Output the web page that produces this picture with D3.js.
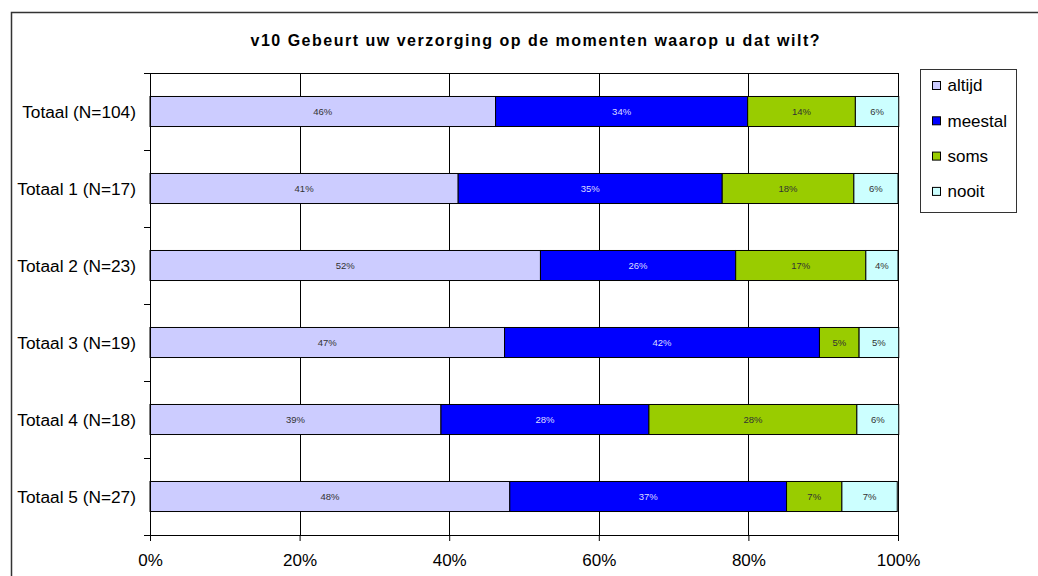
<!DOCTYPE html>
<html>
<head>
<meta charset="utf-8">
<script src="https://cdn.jsdelivr.net/npm/d3@7"></script>
<style>
  body { margin: 0; background: #fff; }
  text { font-family: "Liberation Sans", Arial, sans-serif; }
</style>
</head>
<body>
<script>
// chart data
var title = "v10 Gebeurt uw verzorging op de momenten waarop u dat wilt?";
var categories = ["Totaal (N=104)", "Totaal 1 (N=17)", "Totaal 2 (N=23)", "Totaal 3 (N=19)", "Totaal 4 (N=18)", "Totaal 5 (N=27)"];
var seriesNames = ["altijd", "meestal", "soms", "nooit"];
var altijd  = [46.2, 41.2, 52.2, 47.4, 38.9, 48.1];
var meestal = [33.7, 35.3, 26.1, 42.1, 27.8, 37.0];
var soms    = [14.4, 17.6, 17.4, 5.3, 27.8, 7.4];
var nooit   = [5.8, 5.9, 4.3, 5.3, 5.6, 7.4];
var xTicks = [0, 20, 40, 60, 80, 100];

var colors = ["#ccccff", "#0000ff", "#99cc00", "#ccffff"];
var labelColors = ["#333333", "#ddddff", "#333333", "#333333"];

// rows for the stack layout
var rows = categories.map(function(c, i) {
  return { cat: c, altijd: altijd[i], meestal: meestal[i], soms: soms[i], nooit: nooit[i] };
});
var stacked = d3.stack().keys(seriesNames)(rows);

var W = 1038, H = 576;
var plot = { left: 150, right: 898, top: 73, bottom: 535 };

var svg = d3.select("body").append("svg")
  .attr("width", W)
  .attr("height", H);

// outer chart frame (runs off the picture on the right and bottom)
svg.append("rect")
  .attr("x", 11.5).attr("y", 12.5)
  .attr("width", W).attr("height", H)
  .attr("fill", "#fff")
  .attr("stroke", "#333")
  .attr("stroke-width", 1.5);

var x = d3.scaleLinear().domain([0, 100]).range([plot.left, plot.right]);
var y = d3.scaleBand().domain(categories).range([plot.top, plot.bottom])
  .paddingInner(0.61).paddingOuter(0.305);
// boundaries between categories, for the tick marks on the left
var yEdge = d3.scaleLinear().domain([0, categories.length]).range([plot.top, plot.bottom]);

// title
svg.append("text")
  .attr("x", 535).attr("y", 46)
  .attr("text-anchor", "middle")
  .attr("font-size", 16)
  .attr("font-weight", "bold")
  .attr("textLength", 569)
  .attr("lengthAdjust", "spacing")
  .text(title);

// vertical grid lines
svg.append("g")
  .selectAll("line")
  .data(xTicks.slice(1))
  .enter().append("line")
  .attr("x1", function(d) { return Math.round(x(d)) + 0.5; })
  .attr("x2", function(d) { return Math.round(x(d)) + 0.5; })
  .attr("y1", plot.top).attr("y2", plot.bottom)
  .attr("stroke", "#000")
  .attr("stroke-width", 1);

// top edge of the plot area
svg.append("line")
  .attr("x1", plot.left).attr("x2", plot.right)
  .attr("y1", plot.top + 0.5).attr("y2", plot.top + 0.5)
  .attr("stroke", "#000");

// bars
var layer = svg.append("g").selectAll("g")
  .data(stacked)
  .enter().append("g")
  .attr("fill", function(d, i) { return colors[i]; });

layer.selectAll("rect")
  .data(function(d) { return d; })
  .enter().append("rect")
  .attr("x", function(d) { return x(d[0]); })
  .attr("y", function(d) { return y(d.data.cat); })
  .attr("width", function(d) { return x(d[1]) - x(d[0]); })
  .attr("height", y.bandwidth())
  .attr("stroke", "#000")
  .attr("stroke-width", 1);

// value labels
layer.selectAll("text")
  .data(function(d, i) { return d.map(function(p) { return { p: p, s: i }; }); })
  .enter().append("text")
  .attr("x", function(d) { return (x(d.p[0]) + x(d.p[1])) / 2; })
  .attr("y", function(d) { return y(d.p.data.cat) + y.bandwidth() / 2; })
  .attr("dy", "0.35em")
  .attr("text-anchor", "middle")
  .attr("font-size", 9.5)
  .attr("fill", function(d) { return labelColors[d.s]; })
  .text(function(d) { return Math.round(d.p[1] - d.p[0]) + "%"; });

// x axis
var xAxis = svg.append("g")
  .attr("transform", "translate(0," + plot.bottom + ")")
  .call(d3.axisBottom(x).tickValues(xTicks).tickSize(6).tickPadding(13)
    .tickFormat(function(d) { return d + "%"; }));
xAxis.select(".domain").attr("stroke", "#000");
xAxis.selectAll("line").attr("stroke", "#000");
xAxis.selectAll("text")
  .attr("font-size", 17)
  .attr("fill", "#000")
  .style("font-family", "'Liberation Sans', Arial, sans-serif");

// y axis: tick marks at category boundaries
var yAxis = svg.append("g")
  .attr("transform", "translate(" + plot.left + ",0)")
  .call(d3.axisLeft(yEdge).ticks(categories.length).tickSize(6).tickFormat(""));
yAxis.select(".domain").attr("stroke", "#000");
yAxis.selectAll("line").attr("stroke", "#000");

// category labels
svg.append("g").selectAll("text")
  .data(categories)
  .enter().append("text")
  .attr("x", 136)
  .attr("y", function(d) { return y(d) + y.bandwidth() / 2; })
  .attr("dy", "0.35em")
  .attr("text-anchor", "end")
  .attr("font-size", 17.3)
  .text(function(d) { return d; });

// legend
var legend = svg.append("g").attr("transform", "translate(920.5,69.5)");
legend.append("rect")
  .attr("width", 96).attr("height", 143)
  .attr("fill", "#fff")
  .attr("stroke", "#333");

var item = legend.selectAll(".item")
  .data(seriesNames)
  .enter().append("g")
  .attr("class", "item")
  .attr("transform", function(d, i) { return "translate(12," + (16 + i * 35.3) + ")"; });

item.append("rect")
  .attr("x", 0).attr("y", -4)
  .attr("width", 8).attr("height", 8)
  .attr("fill", function(d, i) { return colors[i]; })
  .attr("stroke", "#000");

item.append("text")
  .attr("x", 15)
  .attr("dy", "0.35em")
  .attr("font-size", 17)
  .text(function(d) { return d; });
</script>
</body>
</html>
